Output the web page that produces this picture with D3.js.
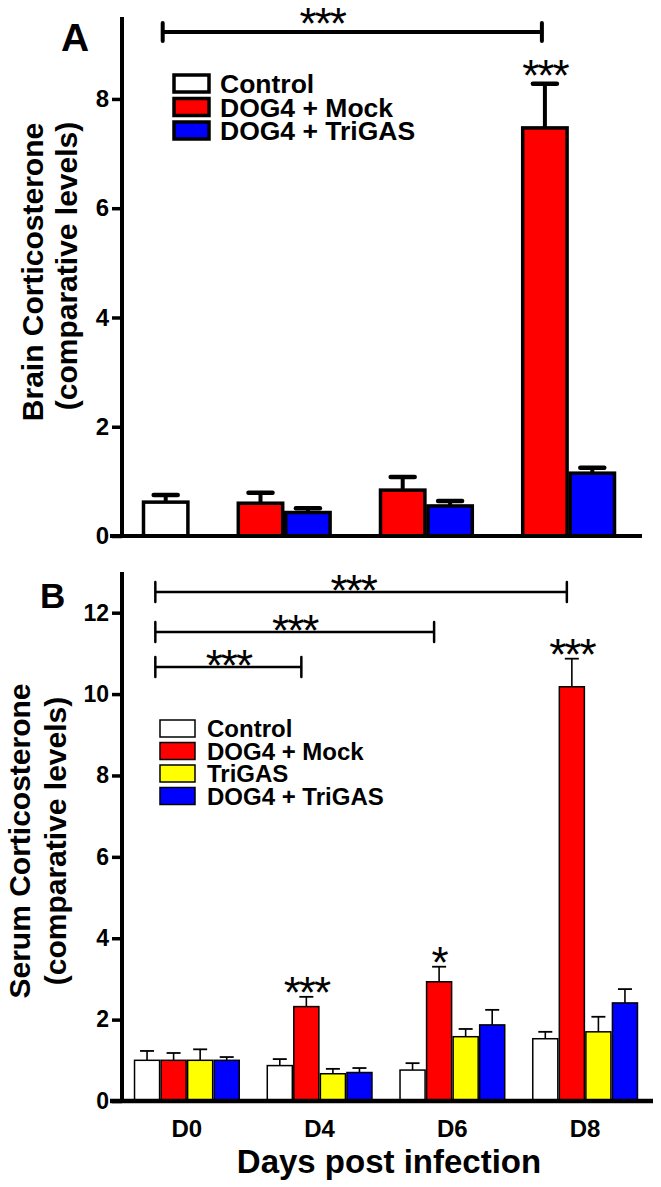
<!DOCTYPE html>
<html><head><meta charset="utf-8">
<script src="https://cdn.jsdelivr.net/npm/d3@7"></script>
<style>
html,body{margin:0;padding:0;background:#fff;}
svg text{font-family:"Liberation Sans",Arial,sans-serif;}
</style></head>
<body><svg id="chart" width="661" height="1187"></svg>
<script>
// ---------- DATA ----------
const days = ["D0", "D4", "D6", "D8"];
const groupsA = ["Control", "DOG4 + Mock", "DOG4 + TriGAS"];
const groupsB = ["Control", "DOG4 + Mock", "TriGAS", "DOG4 + TriGAS"];
const colors = {"Control": "#ffffff", "DOG4 + Mock": "#ff0000", "TriGAS": "#ffff00", "DOG4 + TriGAS": "#0000ff"};

// Panel A: brain corticosterone (bars present per day)
const brainDay   = ["D0", "D4", "D4", "D6", "D6", "D8", "D8"];
const brainGroup = ["Control", "DOG4 + Mock", "DOG4 + TriGAS", "DOG4 + Mock", "DOG4 + TriGAS", "DOG4 + Mock", "DOG4 + TriGAS"];
const brainMean  = [0.62, 0.60, 0.43, 0.84, 0.55, 7.47, 1.15];
const brainErr   = [0.13, 0.19, 0.08, 0.24, 0.09, 0.81, 0.10];
const brainTicks = [0, 2, 4, 6, 8];

// Panel B: serum corticosterone
const serumControl = [1.00, 0.87, 0.76, 1.53];
const serumMock    = [1.00, 2.32, 2.93, 10.18];
const serumTriGAS  = [1.00, 0.67, 1.58, 1.70];
const serumDogTri  = [1.00, 0.70, 1.87, 2.41];
const serumControlErr = [0.23, 0.16, 0.17, 0.17];
const serumMockErr    = [0.18, 0.24, 0.37, 0.69];
const serumTriGASErr  = [0.27, 0.12, 0.19, 0.37];
const serumDogTriErr  = [0.08, 0.11, 0.37, 0.34];
const serumTicks = [0, 2, 4, 6, 8, 10, 12];

// Significance annotations
const sigA = [{from: "D0", to: "D8", label: "***"}];
const sigB = [{from: "D0", to: "D8", label: "***"}, {from: "D0", to: "D6", label: "***"}, {from: "D0", to: "D4", label: "***"}];
const starsA = [{day: "D8", group: "DOG4 + Mock", label: "***"}];
const starsB = [{day: "D4", group: "DOG4 + Mock", label: "***"}, {day: "D6", group: "DOG4 + Mock", label: "*"}, {day: "D8", group: "DOG4 + Mock", label: "***"}];

// ---------- DRAW ----------
const svg = d3.select("#chart");
const FONT = '"Liberation Sans",Arial,sans-serif';

function stars(g, x, y, label) {
  return g.append("text").attr("x", x).attr("y", y).attr("text-anchor", "middle")
    .attr("font-size", 44).attr("letter-spacing", -2).attr("font-family", FONT).text(label);
}

function drawYAxis(g, y, ticks, x0, top, bottom, fs) {
  g.append("line").attr("x1", x0).attr("x2", x0).attr("y1", top).attr("y2", bottom + 2)
    .attr("stroke", "#000").attr("stroke-width", 4);
  const ax = g.append("g").attr("transform", `translate(${x0},0)`)
    .call(d3.axisLeft(y).tickValues(ticks).tickSize(10).tickPadding(3).tickFormat(d3.format("d")));
  ax.select(".domain").remove();
  ax.selectAll(".tick line").attr("stroke", "#000").attr("stroke-width", 3.5);
  ax.selectAll(".tick text").attr("font-size", fs).attr("font-weight", "bold").attr("fill", "#000")
    .attr("font-family", FONT);
}

// ===== Panel A =====
const yA = d3.scaleLinear().domain([0, 9.5]).range([536, 17]);
const colKeysA = [];
days.forEach((d, i) => {
  if (i > 0) colKeysA.push("gap-" + d);
  brainDay.forEach((bd, j) => { if (bd === d) colKeysA.push(bd + "|" + brainGroup[j]); });
});
const xA = d3.scaleBand().domain(colKeysA).range([142, 616]).paddingInner(0);
const gA = svg.append("g");
const barsA = brainMean.map((v, i) => ({day: brainDay[i], group: brainGroup[i], v, e: brainErr[i], key: brainDay[i] + "|" + brainGroup[i]}));

gA.selectAll("line.errA").data(barsA).join("line")
  .attr("x1", d => xA(d.key) + xA.bandwidth() / 2).attr("x2", d => xA(d.key) + xA.bandwidth() / 2)
  .attr("y1", d => yA(d.v)).attr("y2", d => yA(d.v + d.e))
  .attr("stroke", "#000").attr("stroke-width", 4);
gA.selectAll("line.capA").data(barsA).join("line")
  .attr("x1", d => xA(d.key) + xA.bandwidth() / 2 - 12).attr("x2", d => xA(d.key) + xA.bandwidth() / 2 + 12)
  .attr("y1", d => yA(d.v + d.e)).attr("y2", d => yA(d.v + d.e))
  .attr("stroke", "#000").attr("stroke-width", 4.5).attr("stroke-linecap", "round");
gA.selectAll("rect.barA").data(barsA).join("rect")
  .attr("x", d => xA(d.key) + 1.5).attr("width", xA.bandwidth() - 3)
  .attr("y", d => yA(d.v)).attr("height", d => yA(0) - yA(d.v))
  .attr("fill", d => colors[d.group]).attr("stroke", "#000").attr("stroke-width", 3.5);

gA.append("line").attr("x1", 110).attr("x2", 642).attr("y1", yA(0)).attr("y2", yA(0))
  .attr("stroke", "#000").attr("stroke-width", 4);
drawYAxis(gA, yA, brainTicks, 122, 17, yA(0), 24);

sigA.forEach(s => {
  const x1 = xA(s.from + "|Control") + xA.bandwidth() / 2 - 3;
  const x2 = xA(s.to + "|DOG4 + Mock") + xA.bandwidth() / 2 - 3;
  const yy = 32;
  gA.append("line").attr("x1", x1).attr("x2", x2).attr("y1", yy).attr("y2", yy).attr("stroke", "#000").attr("stroke-width", 4);
  [x1, x2].forEach(x => gA.append("line").attr("x1", x).attr("x2", x).attr("y1", yy - 9).attr("y2", yy + 9)
    .attr("stroke", "#000").attr("stroke-width", 4).attr("stroke-linecap", "round"));
  stars(gA, (x1 + x2) / 2 - 30, yy + 7, s.label);
});
starsA.forEach(s => {
  const b = barsA.find(d => d.day === s.day && d.group === s.group);
  stars(gA, xA(b.key) + xA.bandwidth() / 2, yA(b.v + b.e) + 7, s.label);
});

const legA = gA.append("g").attr("transform", "translate(174,75)");
groupsA.forEach((g, i) => {
  legA.append("rect").attr("x", 0).attr("y", i * 23.5).attr("width", 35).attr("height", 17)
    .attr("fill", colors[g]).attr("stroke", "#000").attr("stroke-width", 3.5);
  legA.append("text").attr("x", 46).attr("y", i * 23.5 + 18).attr("font-size", 26.5).attr("font-weight", "bold")
    .attr("font-family", FONT).text(g);
});

gA.append("text").attr("x", 61).attr("y", 51).attr("font-size", 39).attr("font-weight", "bold").attr("font-family", FONT).text("A");
gA.append("text").attr("transform", "translate(43,272) rotate(-90)").attr("text-anchor", "middle")
  .attr("font-size", 30).attr("font-weight", "bold").attr("font-family", FONT).text("Brain Corticosterone");
gA.append("text").attr("transform", "translate(77,266) rotate(-90)").attr("text-anchor", "middle")
  .attr("font-size", 30).attr("font-weight", "bold").attr("font-family", FONT).text("(comparative levels)");

// ===== Panel B =====
const yB = d3.scaleLinear().domain([0, 13]).range([1101, 572]);
const xB = d3.scaleBand().domain(days).range([120.5, 651.5]).paddingInner(0.2).paddingOuter(0.1);
const xBi = d3.scaleBand().domain(groupsB).range([0, xB.bandwidth()]).padding(0);
const seriesB = [
  {group: "Control", vals: serumControl, errs: serumControlErr},
  {group: "DOG4 + Mock", vals: serumMock, errs: serumMockErr},
  {group: "TriGAS", vals: serumTriGAS, errs: serumTriGASErr},
  {group: "DOG4 + TriGAS", vals: serumDogTri, errs: serumDogTriErr}
];
const barsB = [];
seriesB.forEach(s => days.forEach((d, i) => barsB.push({day: d, group: s.group, v: s.vals[i], e: s.errs[i]})));
const gB = svg.append("g");
const bx = d => xB(d.day) + xBi(d.group);
gB.selectAll("line.errB").data(barsB).join("line")
  .attr("x1", d => bx(d) + xBi.bandwidth() / 2).attr("x2", d => bx(d) + xBi.bandwidth() / 2)
  .attr("y1", d => yB(d.v)).attr("y2", d => yB(d.v + d.e)).attr("stroke", "#000").attr("stroke-width", 1.6);
gB.selectAll("line.capB").data(barsB).join("line")
  .attr("x1", d => bx(d) + xBi.bandwidth() / 2 - 7).attr("x2", d => bx(d) + xBi.bandwidth() / 2 + 7)
  .attr("y1", d => yB(d.v + d.e)).attr("y2", d => yB(d.v + d.e)).attr("stroke", "#000").attr("stroke-width", 1.8);
gB.selectAll("rect.barB").data(barsB).join("rect")
  .attr("x", d => bx(d) + 0.75).attr("width", xBi.bandwidth() - 1.5)
  .attr("y", d => yB(d.v)).attr("height", d => yB(0) - yB(d.v))
  .attr("fill", d => colors[d.group]).attr("stroke", "#000").attr("stroke-width", 1.5);

gB.append("line").attr("x1", 110).attr("x2", 653).attr("y1", yB(0)).attr("y2", yB(0))
  .attr("stroke", "#000").attr("stroke-width", 4.5);
drawYAxis(gB, yB, serumTicks, 122, 572, yB(0), 23);

gB.selectAll("text.xlab").data(days).join("text")
  .attr("x", d => xB(d) + xB.bandwidth() / 2).attr("y", 1137).attr("text-anchor", "middle")
  .attr("font-size", 24).attr("font-weight", "bold").attr("font-family", FONT).text(d => d);
gB.append("text").attr("x", 389).attr("y", 1173).attr("text-anchor", "middle")
  .attr("font-size", 33).attr("font-weight", "bold").attr("font-family", FONT).text("Days post infection");

const sigBy = [592, 632, 667];
sigB.forEach((s, i) => {
  const x1 = xB(s.from) + xBi("DOG4 + Mock") - 5;
  const x2 = xB(s.to) + xBi("DOG4 + Mock") + xBi.bandwidth() / 2 - 5;
  const yy = sigBy[i];
  gB.append("line").attr("x1", x1).attr("x2", x2).attr("y1", yy).attr("y2", yy).attr("stroke", "#000").attr("stroke-width", 2.5);
  [x1, x2].forEach(x => gB.append("line").attr("x1", x).attr("x2", x).attr("y1", yy - 10).attr("y2", yy + 10)
    .attr("stroke", "#000").attr("stroke-width", 2.5).attr("stroke-linecap", "round"));
  stars(gB, (x1 + x2) / 2 - (i === 0 ? 8 : 0), yy + 14, s.label);
});
starsB.forEach(s => {
  const b = barsB.find(d => d.day === s.day && d.group === s.group);
  stars(gB, bx(b) + xBi.bandwidth() / 2, yB(b.v + b.e) + 11, s.label);
});

const legB = gB.append("g").attr("transform", "translate(160,720)");
groupsB.forEach((g, i) => {
  legB.append("rect").attr("x", 0).attr("y", i * 22.5).attr("width", 35).attr("height", 17)
    .attr("fill", colors[g]).attr("stroke", "#000").attr("stroke-width", 1.5);
  legB.append("text").attr("x", 47).attr("y", i * 22.5 + 17).attr("font-size", 24).attr("font-weight", "bold")
    .attr("font-family", FONT).text(g);
});

gB.append("text").attr("x", 40).attr("y", 608).attr("font-size", 35).attr("font-weight", "bold").attr("font-family", FONT).text("B");
gB.append("text").attr("transform", "translate(30,841) rotate(-90)").attr("text-anchor", "middle")
  .attr("font-size", 30).attr("font-weight", "bold").attr("font-family", FONT).text("Serum Corticosterone");
gB.append("text").attr("transform", "translate(66,841) rotate(-90)").attr("text-anchor", "middle")
  .attr("font-size", 30).attr("font-weight", "bold").attr("font-family", FONT).text("(comparative levels)");
</script></body></html>
